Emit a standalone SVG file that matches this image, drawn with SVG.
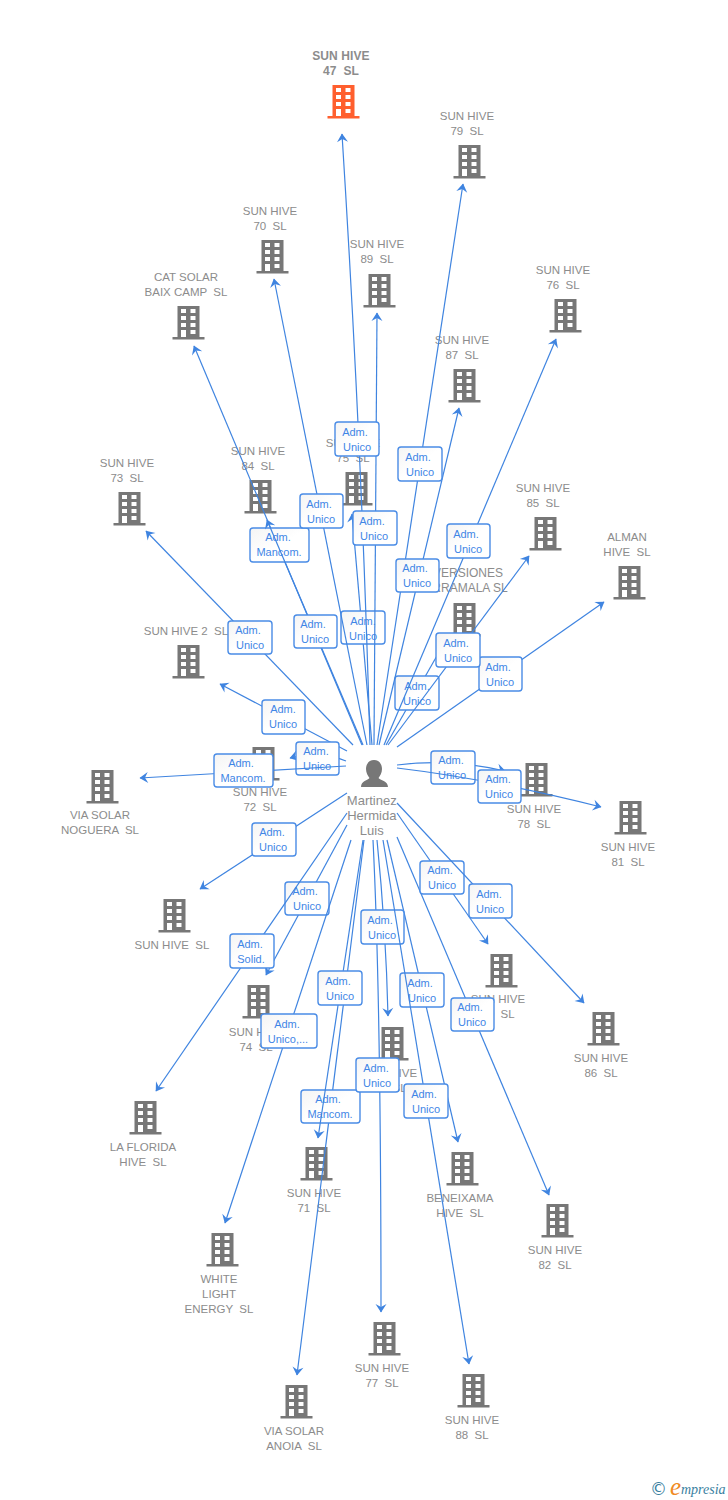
<svg xmlns="http://www.w3.org/2000/svg" width="728" height="1500" viewBox="0 0 728 1500">
<style>
text{font-family:"Liberation Sans",Arial,sans-serif;white-space:pre}
.n{font-size:11.5px;fill:#8c8c8c;text-anchor:middle}
.b{font-weight:bold;font-size:12px;letter-spacing:.1px}
.p{font-size:13px;fill:#8c8c8c;text-anchor:middle}
.e{stroke:#3f84e0;stroke-width:1.2;fill:none;marker-end:url(#a)}
.l{fill:url(#g);stroke:#4a8ce6;stroke-width:1.4}
.t{font-size:11px;fill:#3f86e6;text-anchor:middle}
</style>
<defs>
<linearGradient id="g" x1="0" y1="0" x2="1" y2="1"><stop offset="0" stop-color="#f4f4f4"/><stop offset=".5" stop-color="#fff"/></linearGradient>
<marker id="a" markerUnits="userSpaceOnUse" markerWidth="12" markerHeight="12" refX="10" refY="6" orient="auto" overflow="visible"><path d="M10.500,6 L2,0.500 L5,6 L2,11.500 Z" fill="#3f84e0"/></marker>
<symbol id="h" overflow="visible"><path fill-rule="evenodd" d="M-11,-16 H11 V15 H16 V17.500 H-16 V15 H-11 Z M-7.500,-13 V-9 H-2.500 V-13 Z M2,-13 V-9 H7 V-13 Z M-7.500,-6 V-2 H-2.500 V-6 Z M2,-6 V-2 H7 V-6 Z M-7.500,1 V5 H-2.500 V1 Z M2,1 V5 H7 V1 Z M-7.500,8 V15 H-2.500 V8 Z M2,8 V12 H7 V8 Z"/></symbol>
</defs>
<g id="n47" fill="#ff5f2e"><use href="#h" x="343.500" y="101"/><text class="n b" x="341" y="60">SUN HIVE</text><text class="n b" x="341" y="75">47  SL</text></g>
<g id="n79" fill="#777"><use href="#h" x="469.500" y="161"/><text class="n" x="467" y="120">SUN HIVE</text><text class="n" x="467" y="135">79  SL</text></g>
<g id="n70" fill="#777"><use href="#h" x="272.500" y="256"/><text class="n" x="270" y="215">SUN HIVE</text><text class="n" x="270" y="230">70  SL</text></g>
<g id="n89" fill="#777"><use href="#h" x="379.500" y="290"/><text class="n" x="377" y="248">SUN HIVE</text><text class="n" x="377" y="263">89  SL</text></g>
<g id="n76" fill="#777"><use href="#h" x="565.500" y="315"/><text class="n" x="563" y="274">SUN HIVE</text><text class="n" x="563" y="289">76  SL</text></g>
<g id="ncat" fill="#777"><use href="#h" x="188.500" y="322"/><text class="n" x="186" y="281">CAT SOLAR</text><text class="n" x="186" y="296">BAIX CAMP  SL</text></g>
<g id="n87" fill="#777"><use href="#h" x="464.500" y="385"/><text class="n" x="462" y="344">SUN HIVE</text><text class="n" x="462" y="359">87  SL</text></g>
<g id="n85" fill="#777"><use href="#h" x="545.500" y="533"/><text class="n" x="543" y="492">SUN HIVE</text><text class="n" x="543" y="507">85  SL</text></g>
<g id="n73" fill="#777"><use href="#h" x="129.500" y="508"/><text class="n" x="127" y="467">SUN HIVE</text><text class="n" x="127" y="482">73  SL</text></g>
<g id="n84" fill="#777"><use href="#h" x="260.500" y="496"/><text class="n" x="258" y="455">SUN HIVE</text><text class="n" x="258" y="470">84  SL</text></g>
<g id="n75" fill="#777"><use href="#h" x="356.500" y="488"/><text class="n" x="353" y="447">SUN HIVE</text><text class="n" x="353" y="462">75  SL</text></g>
<g id="ninv" fill="#777"><use href="#h" x="464.500" y="619"/><text class="n" x="462" y="577" style="font-size:12px">INVERSIONES</text><text class="n" x="462" y="592" style="font-size:12px">SERRAMALA SL</text></g>
<g id="nalman" fill="#777"><use href="#h" x="629.500" y="582"/><text class="n" x="627" y="541">ALMAN</text><text class="n" x="627" y="556">HIVE  SL</text></g>
<g id="n2" fill="#777"><use href="#h" x="188.500" y="661"/><text class="n" x="186" y="635">SUN HIVE 2  SL</text></g>
<g id="n72" fill="#777"><use href="#h" x="263.500" y="763"/><text class="n" x="260" y="796">SUN HIVE</text><text class="n" x="260" y="811">72  SL</text></g>
<g id="nnog" fill="#777"><use href="#h" x="102.500" y="786"/><text class="n" x="100" y="819">VIA SOLAR</text><text class="n" x="100" y="834">NOGUERA  SL</text></g>
<g id="n78" fill="#777"><use href="#h" x="536.500" y="779"/><text class="n" x="534" y="813">SUN HIVE</text><text class="n" x="534" y="828">78  SL</text></g>
<g id="n81" fill="#777"><use href="#h" x="630.500" y="817"/><text class="n" x="628" y="851">SUN HIVE</text><text class="n" x="628" y="866">81  SL</text></g>
<g id="nsl" fill="#777"><use href="#h" x="174.500" y="915"/><text class="n" x="172" y="949">SUN HIVE  SL</text></g>
<g id="nflo" fill="#777"><use href="#h" x="145.500" y="1117"/><text class="n" x="143" y="1151">LA FLORIDA</text><text class="n" x="143" y="1166">HIVE  SL</text></g>
<g id="n74" fill="#777"><use href="#h" x="258.500" y="1001"/><text class="n" x="256" y="1036">SUN HIVE</text><text class="n" x="256" y="1051">74  SL</text></g>
<g id="n80" fill="#777"><use href="#h" x="501.500" y="970"/><text class="n" x="498" y="1003">SUN HIVE</text><text class="n" x="498" y="1018">80  SL</text></g>
<g id="n86" fill="#777"><use href="#h" x="603.500" y="1028"/><text class="n" x="601" y="1062">SUN HIVE</text><text class="n" x="601" y="1077">86  SL</text></g>
<g id="n83" fill="#777"><use href="#h" x="392.500" y="1043"/><text class="n" x="390" y="1077">SUN HIVE</text><text class="n" x="390" y="1092">83  SL</text></g>
<g id="n71" fill="#777"><use href="#h" x="316.500" y="1163"/><text class="n" x="314" y="1197">SUN HIVE</text><text class="n" x="314" y="1212">71  SL</text></g>
<g id="nben" fill="#777"><use href="#h" x="462.500" y="1168"/><text class="n" x="460" y="1202">BENEIXAMA</text><text class="n" x="460" y="1217">HIVE  SL</text></g>
<g id="n82" fill="#777"><use href="#h" x="557.500" y="1220"/><text class="n" x="555" y="1254">SUN HIVE</text><text class="n" x="555" y="1269">82  SL</text></g>
<g id="nwhite" fill="#777"><use href="#h" x="222.500" y="1249"/><text class="n" x="219" y="1283">WHITE</text><text class="n" x="219" y="1298">LIGHT</text><text class="n" x="219" y="1313">ENERGY  SL</text></g>
<g id="n77" fill="#777"><use href="#h" x="384.500" y="1338"/><text class="n" x="382" y="1372">SUN HIVE</text><text class="n" x="382" y="1387">77  SL</text></g>
<g id="n88" fill="#777"><use href="#h" x="473.500" y="1390"/><text class="n" x="472" y="1424">SUN HIVE</text><text class="n" x="472" y="1439">88  SL</text></g>
<g id="nano" fill="#777"><use href="#h" x="296.500" y="1401"/><text class="n" x="294" y="1435">VIA SOLAR</text><text class="n" x="294" y="1450">ANOIA  SL</text></g>
<g id="center" fill="#777"><path d="M374,760 C379,760 382,764 382,769 C382,773 380,776 378.500,778 C380,780 388,781 388,787 H361 C361,781 368,780 369.500,778 C368,776 366,773 366,769 C366,764 369,760 374,760 Z"/><text class="p" x="371.800" y="805">Martinez</text><text class="p" x="371.800" y="820">Hermida</text><text class="p" x="371.800" y="835">Luis</text></g>
<g id="connectors">
<path class="e" d="M362,745 L194,346"/><rect class="l" x="250" y="528" width="59" height="34" rx="3"/><text class="t" x="278" y="541">Adm.</text><text class="t" x="279" y="556">Mancom.</text>
<path class="e" d="M363,745 L267,520"/>
<path class="e" d="M372,745 L352,514"/><rect class="l" x="341" y="611" width="44" height="33" rx="3"/><text class="t" x="363" y="625">Adm.</text><text class="t" x="363" y="640">Unico</text>
<path class="e" d="M386,745 L446,640"/><rect class="l" x="395" y="676" width="44" height="34" rx="3"/><text class="t" x="417" y="690">Adm.</text><text class="t" x="417" y="705">Unico</text>
<path class="e" d="M397,765 Q450,758 505,771"/><rect class="l" x="431" y="751" width="44" height="33" rx="3"/><text class="t" x="451" y="764">Adm.</text><text class="t" x="452" y="779">Unico</text>
<path class="e" d="M387,840 L458,1142"/><rect class="l" x="400" y="973" width="44" height="34" rx="3"/><text class="t" x="420" y="987">Adm.</text><text class="t" x="422" y="1002">Unico</text>
<path class="e" d="M353,745 L146,531"/><rect class="l" x="228" y="621" width="44" height="33" rx="3"/><text class="t" x="248" y="634">Adm.</text><text class="t" x="250" y="649">Unico</text>
<path class="e" d="M347,751 L220,684"/><rect class="l" x="262" y="700" width="43" height="34" rx="3"/><text class="t" x="283" y="713">Adm.</text><text class="t" x="283" y="728">Unico</text>
<path class="e" d="M346,761 Q318,750 290,758"/><rect class="l" x="296" y="742" width="43" height="33" rx="3"/><text class="t" x="316" y="755">Adm.</text><text class="t" x="317" y="770">Unico</text>
<path class="e" d="M346,766 L140,778"/><rect class="l" x="214" y="754" width="59" height="33" rx="3"/><text class="t" x="241" y="767">Adm.</text><text class="t" x="243" y="782">Mancom.</text>
<path class="e" d="M347,793 L200,889"/><rect class="l" x="252" y="823" width="44" height="33" rx="3"/><text class="t" x="272" y="836">Adm.</text><text class="t" x="273" y="851">Unico</text>
<path class="e" d="M347,825 L266,975"/><rect class="l" x="285" y="882" width="44" height="33" rx="3"/><text class="t" x="305" y="895">Adm.</text><text class="t" x="307" y="910">Unico</text>
<path class="e" d="M347,813 L156,1091"/><rect class="l" x="230" y="934" width="44" height="34" rx="3"/><text class="t" x="250" y="948">Adm.</text><text class="t" x="251" y="963">Solid.</text>
<path class="e" d="M351,840 L225,1223"/><rect class="l" x="261" y="1014" width="56" height="34" rx="3"/><text class="t" x="287" y="1028">Adm.</text><text class="t" x="288" y="1043">Unico,...</text>
<path class="e" d="M364,840 L297,1375"/><rect class="l" x="301" y="1090" width="59" height="33" rx="3"/><text class="t" x="328" y="1103">Adm.</text><text class="t" x="330" y="1118">Mancom.</text>
<path class="e" d="M363,840 L318,1138"/><rect class="l" x="318" y="971" width="44" height="34" rx="3"/><text class="t" x="338" y="985">Adm.</text><text class="t" x="340" y="1000">Unico</text>
<path class="e" d="M373,840 Q381,1000 381,1312"/><rect class="l" x="356" y="1058" width="43" height="34" rx="3"/><text class="t" x="376" y="1072">Adm.</text><text class="t" x="377" y="1087">Unico</text>
<path class="e" d="M377,840 Q386,930 388,1016"/><rect class="l" x="361" y="910" width="43" height="34" rx="3"/><text class="t" x="380" y="924">Adm.</text><text class="t" x="382" y="939">Unico</text>
<path class="e" d="M383,840 L469,1364"/><rect class="l" x="404" y="1084" width="44" height="34" rx="3"/><text class="t" x="424" y="1098">Adm.</text><text class="t" x="426" y="1113">Unico</text>
<path class="e" d="M397,837 L549,1195"/><rect class="l" x="451" y="998" width="43" height="33" rx="3"/><text class="t" x="470" y="1011">Adm.</text><text class="t" x="472" y="1026">Unico</text>
<path class="e" d="M397,813 L488,944"/><rect class="l" x="420" y="861" width="44" height="33" rx="3"/><text class="t" x="440" y="874">Adm.</text><text class="t" x="442" y="889">Unico</text>
<path class="e" d="M397,803 L584,1003"/><rect class="l" x="469" y="884" width="43" height="34" rx="3"/><text class="t" x="489" y="898">Adm.</text><text class="t" x="490" y="913">Unico</text>
<path class="e" d="M397,768 Q490,779 601,807"/><rect class="l" x="478" y="770" width="43" height="33" rx="3"/><text class="t" x="498" y="783">Adm.</text><text class="t" x="499" y="798">Unico</text>
<path class="e" d="M397,747 L604,602"/><rect class="l" x="479" y="657" width="43" height="34" rx="3"/><text class="t" x="498" y="671">Adm.</text><text class="t" x="500" y="686">Unico</text>
<path class="e" d="M388,745 L529,556"/><rect class="l" x="436" y="633" width="44" height="34" rx="3"/><text class="t" x="456" y="647">Adm.</text><text class="t" x="458" y="662">Unico</text>
<path class="e" d="M384,745 L556,339"/><rect class="l" x="447" y="524" width="43" height="34" rx="3"/><text class="t" x="466" y="538">Adm.</text><text class="t" x="468" y="553">Unico</text>
<path class="e" d="M379,745 L459,408"/><path class="e" d="M377,745 L463,184"/><rect class="l" x="396" y="559" width="43" height="33" rx="3"/><text class="t" x="415" y="572">Adm.</text><text class="t" x="417" y="587">Unico</text><rect class="l" x="398" y="447" width="44" height="34" rx="3"/><text class="t" x="418" y="461">Adm.</text><text class="t" x="420" y="476">Unico</text>
<path class="e" d="M367,745 L274,279"/><rect class="l" x="300" y="494" width="43" height="34" rx="3"/><text class="t" x="319" y="508">Adm.</text><text class="t" x="321" y="523">Unico</text>
<rect class="l" x="294" y="615" width="43" height="33" rx="3"/><text class="t" x="313" y="628">Adm.</text><text class="t" x="315" y="643">Unico</text>
<path class="e" d="M370,745 Q362,450 342,134"/><path class="e" d="M374,745 L377,313"/><rect class="l" x="353" y="511" width="44" height="34" rx="3"/><text class="t" x="372" y="525">Adm.</text><text class="t" x="374" y="540">Unico</text><rect class="l" x="335" y="422" width="44" height="34" rx="3"/><text class="t" x="355" y="436">Adm.</text><text class="t" x="357" y="451">Unico</text>
</g>
<g id="logo"><text x="650" y="1495" font-size="17" fill="#3a7f9f" style="font-family:'DejaVu Sans',sans-serif">©</text><text x="670" y="1495" font-size="25" fill="#f08a24" font-style="italic" style="font-family:'Liberation Serif',serif">e</text><text x="681" y="1494" font-size="14" fill="#3a7f9f" font-style="italic" style="font-family:'Liberation Serif',serif">mpresia</text></g>
</svg>
